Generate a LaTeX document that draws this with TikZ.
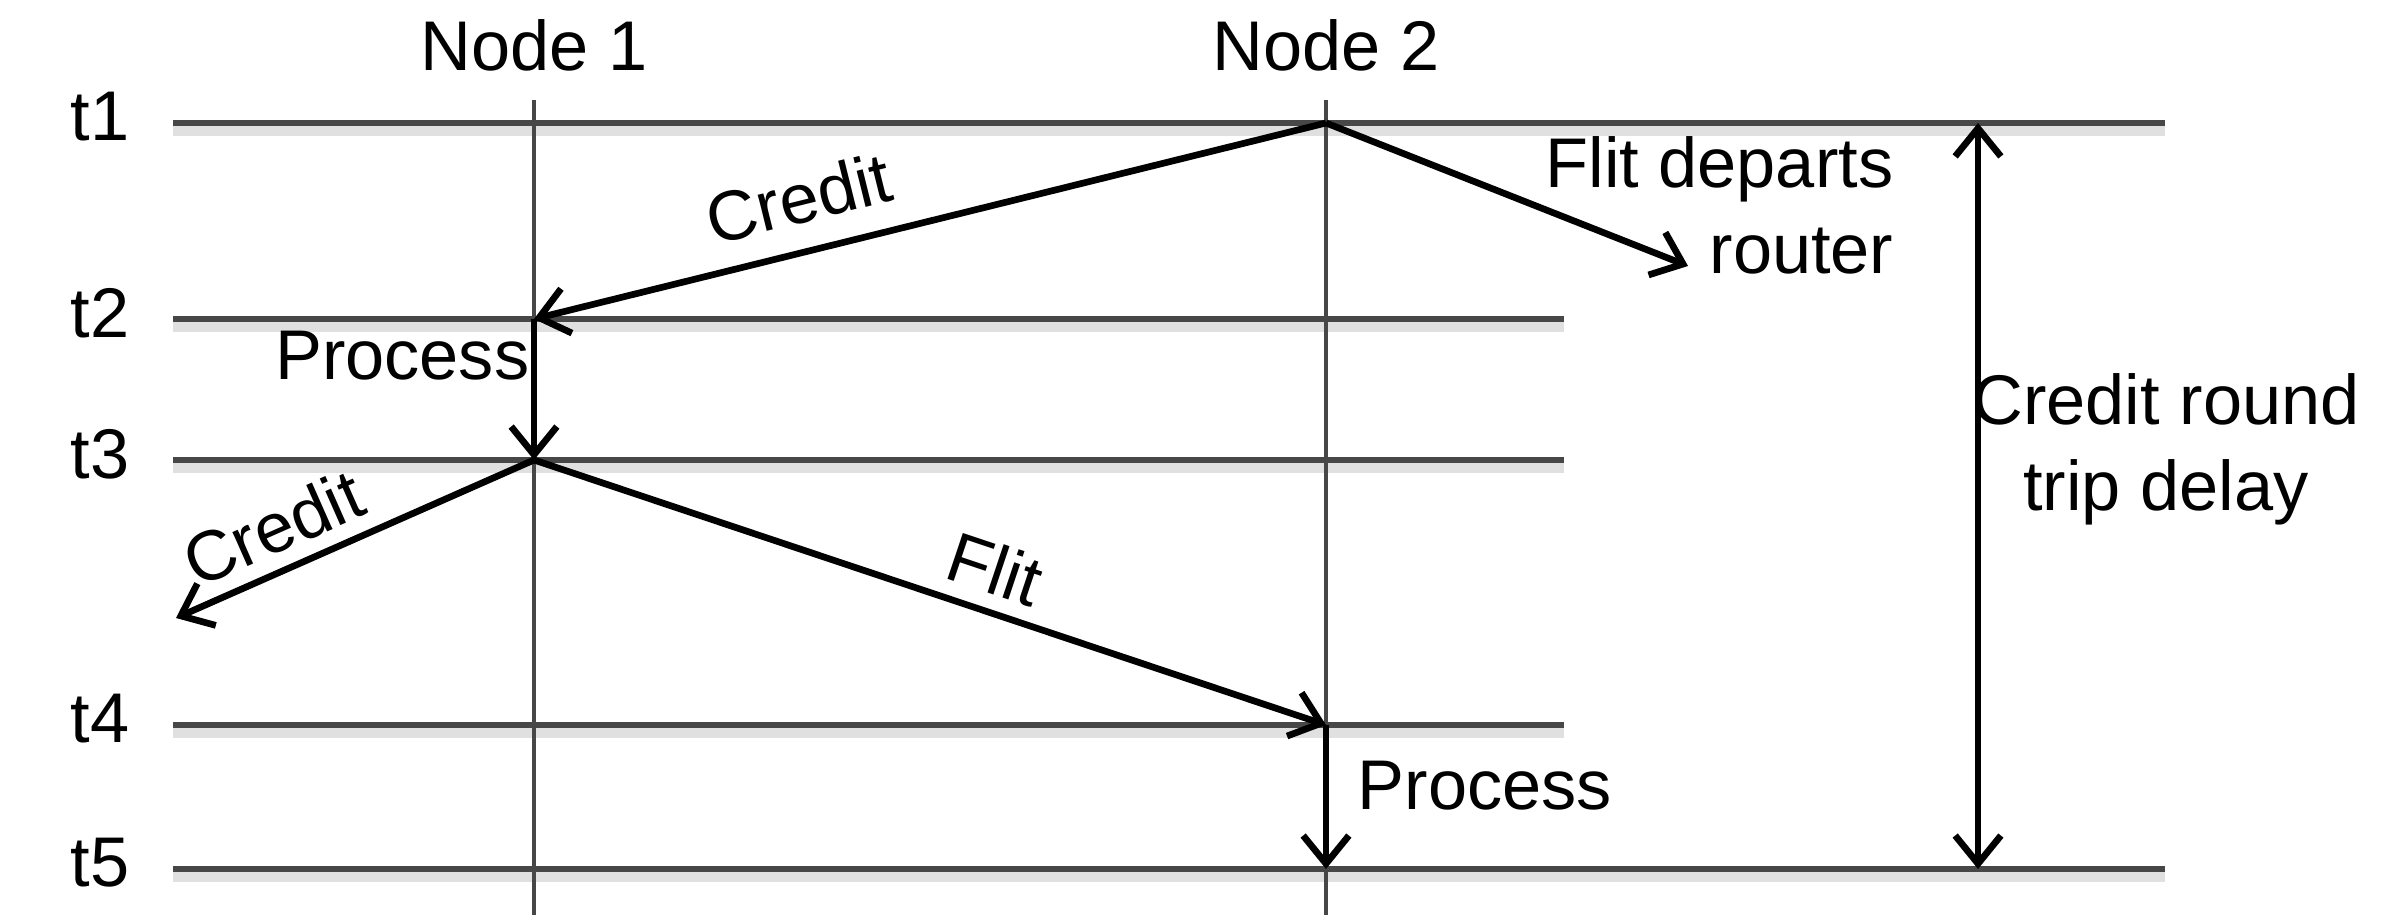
\documentclass[tikz,border=0pt]{standalone}
\usepackage{fontspec}
\setmainfont{Liberation Sans}
\usetikzlibrary{arrows.meta}
\begin{document}
\begin{tikzpicture}[x=0.01cm,y=-0.01cm,
  hline/.style={draw=black!72, line width=1.6pt,
    preaction={draw=black!12, line width=3pt, transform canvas={yshift=-2.2pt}}},
  vline/.style={draw=black!72, line width=0.9pt},
  msg/.style={draw=black, line width=1.9pt, -{Straight Barb[length=8pt,width=13pt,line width=1.9pt]}},
  both/.style={draw=black, line width=1.9pt, {Straight Barb[length=8pt,width=13pt,line width=1.9pt]}-{Straight Barb[length=8pt,width=13pt,line width=1.9pt]}},
  lbl/.style={font=\fontsize{20}{24.5}\selectfont, inner sep=0pt},
]
\useasboundingbox (0,0) rectangle (2404,922);
% time lines
\coordinate (L1) at (173,123); \coordinate (R1) at (2165,123);
\coordinate (L2) at (173,319); \coordinate (R2) at (1564,319);
\coordinate (L3) at (173,460); \coordinate (R3) at (1564,460);
\coordinate (L4) at (173,725); \coordinate (R4) at (1564,725);
\coordinate (L5) at (173,869); \coordinate (R5) at (2165,869);
\foreach \i in {1,...,5} { \draw[hline] (L\i) -- (R\i); }
% node lines
\coordinate (N1t) at (534,100); \coordinate (N1b) at (534,915);
\coordinate (N2t) at (1326,100); \coordinate (N2b) at (1326,915);
\draw[vline] (N1t) -- (N1b);
\draw[vline] (N2t) -- (N2b);
% labels
\node[lbl] (n1) at (534,45) {Node 1};
\node[lbl] (n2) at (1326,45) {Node 2};
\node[lbl] (t1) at (100,117) {t1};
\node[lbl] (t2) at (100,313) {t2};
\node[lbl] (t3) at (100,454) {t3};
\node[lbl] (t4) at (100,719) {t4};
\node[lbl] (t5) at (100,863) {t5};
% events
\coordinate (A) at (1326,123);
\coordinate (B) at (534,319);
\coordinate (C) at (534,460);
\coordinate (D) at (1326,725);
\coordinate (E) at (1326,869);
\coordinate (FD) at (1688,266);
\coordinate (CR) at (176,618);
\coordinate (DT) at (1978,123);
\coordinate (DB) at (1978,869);
% messages
\draw[msg] (A) -- node[lbl, sloped, above=7pt, pos=0.65] (cr1) {Credit} (B);
\draw[msg] (A) -- (FD);
\draw[msg] (B) -- (C);
\draw[msg] (C) -- node[lbl, sloped, above=4pt, pos=0.68] (cr2) {Credit} (CR);
\draw[msg] (C) -- node[lbl, sloped, above=4pt, pos=0.565] (fl) {Flit} (D);
\draw[msg] (D) -- (E);
\draw[both] (DT) -- (DB);
\node[lbl, anchor=east] (p1) at (530,356) {Process};
\node[lbl, anchor=west] (p2) at (1357,786) {Process};
\node[lbl, align=right, anchor=east] (fdl) at (1894,205) {Flit departs\\router};
\node[lbl, align=center] (crt) at (2166,449) {Credit round\\trip delay};
\end{tikzpicture}
\end{document}
